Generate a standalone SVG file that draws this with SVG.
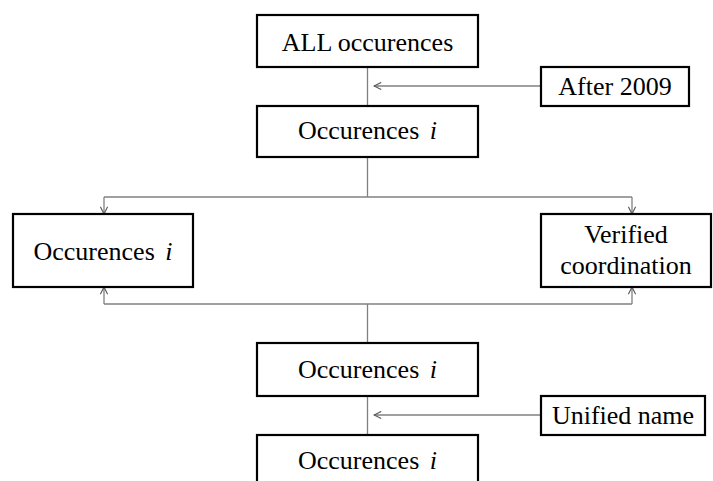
<svg xmlns="http://www.w3.org/2000/svg" width="713" height="481" viewBox="0 0 713 481">
<style>
.box{fill:#fff;stroke:#000;stroke-width:2.2}
.t{font-family:"Liberation Serif","Times New Roman",serif;font-size:26px;fill:#000;text-anchor:middle}
.it{font-style:italic}
.c{fill:none;stroke:#808080;stroke-width:1.3}
</style>
<defs>
<marker id="ah" viewBox="0 0 10 10" refX="9" refY="5" markerWidth="9" markerHeight="9" markerUnits="userSpaceOnUse" orient="auto">
<path d="M1,1 L9,5 L1,9" fill="none" stroke="#555" stroke-width="1.2"/>
</marker>
</defs>
<g id="connectors">
<line class="c" x1="367.5" y1="67" x2="367.5" y2="106"/>
<line class="c" x1="541" y1="86" x2="374" y2="86" marker-end="url(#ah)"/>
<line class="c" x1="367.5" y1="157" x2="367.5" y2="197"/>
<line class="c" x1="104" y1="197" x2="632" y2="197"/>
<line class="c" x1="104" y1="197" x2="104" y2="214" marker-end="url(#ah)"/>
<line class="c" x1="632" y1="197" x2="632" y2="214" marker-end="url(#ah)"/>
<line class="c" x1="104" y1="304" x2="632" y2="304"/>
<line class="c" x1="104" y1="304" x2="104" y2="287" marker-end="url(#ah)"/>
<line class="c" x1="632" y1="304" x2="632" y2="287" marker-end="url(#ah)"/>
<line class="c" x1="367.5" y1="304" x2="367.5" y2="343"/>
<line class="c" x1="367.5" y1="396" x2="367.5" y2="435"/>
<line class="c" x1="541" y1="415" x2="374" y2="415" marker-end="url(#ah)"/>
</g>
<g id="all">
<rect class="box" x="257" y="15" width="221" height="52"/>
<text class="t" x="367.5" y="51">ALL occurences</text>
</g>
<g id="after2009">
<rect class="box" x="541" y="67" width="148" height="39"/>
<text class="t" x="615" y="95">After 2009</text>
</g>
<g id="occ1">
<rect class="box" x="257" y="106" width="221" height="51"/>
<text class="t" x="367.5" y="139">Occurences <tspan class="it" dx="4">i</tspan></text>
</g>
<g id="occ2">
<rect class="box" x="13" y="214" width="180" height="73"/>
<text class="t" x="103" y="260">Occurences <tspan class="it" dx="4">i</tspan></text>
</g>
<g id="verified">
<rect class="box" x="541" y="214" width="170" height="73"/>
<text class="t" x="626" y="243">Verified</text>
<text class="t" x="626" y="274">coordination</text>
</g>
<g id="occ3">
<rect class="box" x="257" y="343" width="221" height="53"/>
<text class="t" x="367.5" y="378">Occurences <tspan class="it" dx="4">i</tspan></text>
</g>
<g id="unified">
<rect class="box" x="541" y="396" width="164" height="39"/>
<text class="t" x="623" y="424">Unified name</text>
</g>
<g id="occ4">
<rect class="box" x="257" y="435" width="221" height="60"/>
<text class="t" x="367.5" y="469">Occurences <tspan class="it" dx="4">i</tspan></text>
</g>
</svg>
